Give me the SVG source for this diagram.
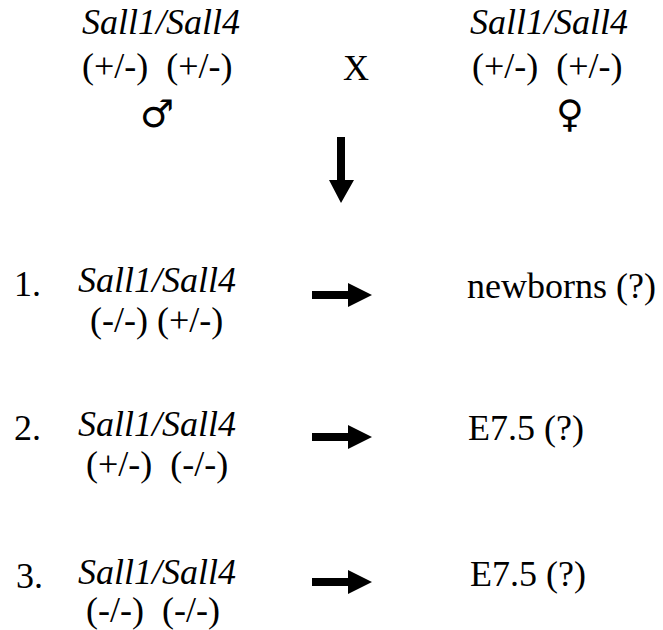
<svg xmlns="http://www.w3.org/2000/svg" width="663" height="630" viewBox="0 0 663 630">
<rect width="663" height="630" fill="#fff"/>
<g id="parent-male">
<text x="82" y="34" font-family="Liberation Serif" font-size="36" font-style="italic">Sall1/Sall4</text>
<text x="82" y="78" font-family="Liberation Serif" font-size="36" xml:space="preserve">(+/-)  (+/-)</text>
<text x="157" y="127" font-family="DejaVu Sans" font-size="38" text-anchor="middle">♂</text>
</g>
<g id="cross">
<text x="343" y="80" font-family="Liberation Serif" font-size="36">X</text>
</g>
<g id="parent-female">
<text x="470" y="34" font-family="Liberation Serif" font-size="36" font-style="italic">Sall1/Sall4</text>
<text x="472" y="78" font-family="Liberation Serif" font-size="36" xml:space="preserve">(+/-)  (+/-)</text>
<text x="570" y="127" font-family="DejaVu Sans" font-size="38" text-anchor="middle">♀</text>
</g>
<g id="row1">
<text x="14" y="296" font-family="Liberation Serif" font-size="36">1.</text>
<text x="78" y="292" font-family="Liberation Serif" font-size="36" font-style="italic">Sall1/Sall4</text>
<text x="90" y="332" font-family="Liberation Serif" font-size="36">(-/-) (+/-)</text>
<text x="467" y="298" font-family="Liberation Serif" font-size="36">newborns (?)</text>
</g>
<g id="row2">
<text x="14" y="440" font-family="Liberation Serif" font-size="36">2.</text>
<text x="78" y="436" font-family="Liberation Serif" font-size="36" font-style="italic">Sall1/Sall4</text>
<text x="86" y="476" font-family="Liberation Serif" font-size="36" xml:space="preserve">(+/-)  (-/-)</text>
<text x="468" y="440" font-family="Liberation Serif" font-size="36">E7.5 (?)</text>
</g>
<g id="row3">
<text x="16" y="588" font-family="Liberation Serif" font-size="36">3.</text>
<text x="78" y="584" font-family="Liberation Serif" font-size="36" font-style="italic">Sall1/Sall4</text>
<text x="86" y="622" font-family="Liberation Serif" font-size="36" xml:space="preserve">(-/-)  (-/-)</text>
<text x="470" y="586" font-family="Liberation Serif" font-size="36">E7.5 (?)</text>
</g>
<g id="connectors" fill="#000">
<polygon points="337,137 345,137 345,180 354,180 341,203 329,180 337,180"/>
<polygon points="312,291 348,291 348,283 372,295 348,307 348,299 312,299"/>
<polygon points="312,433 348,433 348,425 372,437 348,449 348,441 312,441"/>
<polygon points="312,578 348,578 348,570 372,582 348,594 348,586 312,586"/>
</g>
</svg>
